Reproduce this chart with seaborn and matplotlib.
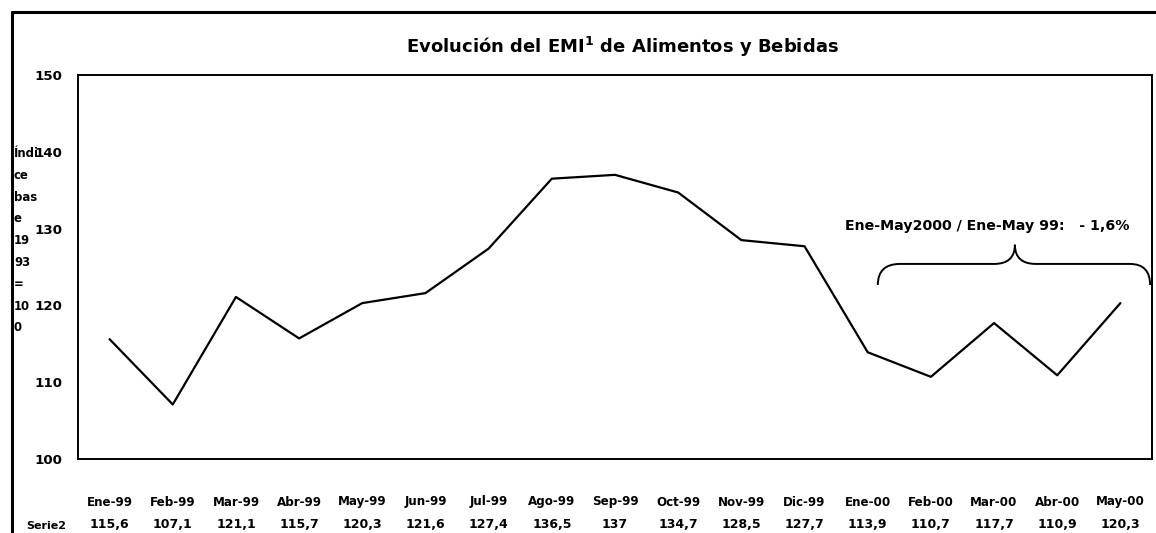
import matplotlib
matplotlib.use("Agg")
import matplotlib.pyplot as plt
import seaborn as sns
import pandas as pd
from matplotlib.path import Path
from matplotlib.patches import PathPatch
from matplotlib.lines import Line2D

# ---- data ----
months = ["Ene-99", "Feb-99", "Mar-99", "Abr-99", "May-99", "Jun-99", "Jul-99",
          "Ago-99", "Sep-99", "Oct-99", "Nov-99", "Dic-99", "Ene-00", "Feb-00",
          "Mar-00", "Abr-00", "May-00"]
values = [115.6, 107.1, 121.1, 115.7, 120.3, 121.6, 127.4, 136.5, 137.0, 134.7,
          128.5, 127.7, 113.9, 110.7, 117.7, 110.9, 120.3]
series_name = "Serie2"
y_ticks = [100, 110, 120, 130, 140, 150]
title_text = r"Evolución del EMI$^{\mathbf{1}}$ de Alimentos y Bebidas"
ylabel_text = "Índi\nce\nbas\ne\n19\n93\n=\n10\n0"
annot_text = "Ene-May2000 / Ene-May 99:   - 1,6%"

sns.set_theme(style="white")
plt.rcParams["font.family"] = ["DejaVu Sans"]
plt.rcParams["font.weight"] = "bold"
plt.rcParams["text.color"] = "black"
plt.rcParams["ytick.color"] = "black"
plt.rcParams["xtick.color"] = "black"
plt.rcParams["mathtext.fontset"] = "custom"
plt.rcParams["mathtext.bf"] = "DejaVu Sans:bold"
plt.rcParams["mathtext.rm"] = "DejaVu Sans:bold"

W, H = 1156, 533
fig = plt.figure(figsize=(W / 100, H / 100), dpi=100)
fig.patch.set_facecolor("white")

left, right, top, bottom = 78, 1152, 75, 459
ax = fig.add_axes([left / W, 1 - bottom / H, (right - left) / W, (bottom - top) / H])
ax.set_facecolor("white")

df = pd.DataFrame({"pos": range(len(months)), "valor": values})
sns.lineplot(data=df, x="pos", y="valor", color="black", linewidth=1.6, ax=ax)

ax.set_xlim(-0.5, len(months) - 0.5)
ax.set_ylim(min(y_ticks), max(y_ticks))
ax.set_yticks(y_ticks)
ax.set_yticklabels([str(t) for t in y_ticks], fontsize=9.6, fontweight="bold",
                   color="black")
ax.tick_params(axis="y", length=0, pad=11.5)
ax.set_xticks([])
ax.set_xlabel("")
ax.set_ylabel("")
for s in ax.spines.values():
    s.set_visible(True)
    s.set_color("black")
    s.set_linewidth(1.4)

# data table beneath the axis
def fmt(v):
    s = f"{v:.1f}"
    if s.endswith(".0"):
        s = s[:-2]
    return s.replace(".", ",")

row1_y = 1 - 502 / H
row2_y = 1 - 524 / H
trans = matplotlib.transforms.blended_transform_factory(ax.transData, fig.transFigure)
for i, (m, v) in enumerate(zip(months, values)):
    ax.text(i, row1_y, m, transform=trans, ha="center", va="center",
            fontsize=8.6, fontweight="bold", clip_on=False)
    ax.text(i, row2_y, fmt(v), transform=trans, ha="center", va="center",
            fontsize=9, fontweight="bold", clip_on=False)
fig.text(46 / W, 1 - 526 / H, series_name, ha="center", va="center",
         fontsize=8, fontweight="bold")

# title
fig.text(622 / W, 1 - 47 / H, title_text, ha="center", va="center",
         fontsize=13, fontweight="bold")

# y label (wrapped)
fig.text(14 / W, 1 - 147 / H, ylabel_text, ha="left", va="top",
         fontsize=8.4, fontweight="bold", linespacing=1.88)

# brace annotation
yb_end, yb_mid, yb_tip = 122.66, 125.4, 127.9
xb0, xb_a, xb_b, xtip, xb_c, xb_d, xb1 = 12.16, 12.51, 14.0, 14.33, 14.66, 16.15, 16.47
verts = [(xb0, yb_end), (xb0, yb_mid), (xb_a, yb_mid), (xb_b, yb_mid),
         (xtip, yb_mid), (xtip, yb_tip),
         (xtip, yb_mid), (xb_c, yb_mid), (xb_d, yb_mid),
         (xb1, yb_mid), (xb1, yb_end)]
codes = [Path.MOVETO, Path.CURVE3, Path.CURVE3, Path.LINETO,
         Path.CURVE3, Path.CURVE3,
         Path.CURVE3, Path.CURVE3, Path.LINETO,
         Path.CURVE3, Path.CURVE3]
ax.add_patch(PathPatch(Path(verts, codes), facecolor="none", edgecolor="black",
                       linewidth=1.4, clip_on=False))
ax.text(13.89, 130.4, annot_text, ha="center", va="center", fontsize=10.2,
        fontweight="bold")

# outer frame (left and top edges visible)
fig.add_artist(Line2D([12 / W, 12 / W], [0, 1 - 12 / H], color="black", linewidth=2.2,
                      transform=fig.transFigure))
fig.add_artist(Line2D([12 / W, 1], [1 - 12 / H, 1 - 12 / H], color="black", linewidth=2.2,
                      transform=fig.transFigure))

fig.savefig("out.png", dpi=100, facecolor="white")
